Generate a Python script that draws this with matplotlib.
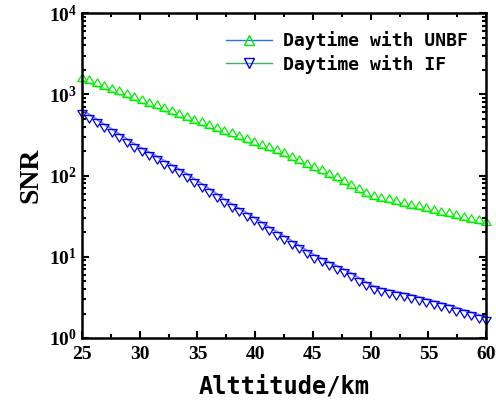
import numpy as np
import matplotlib
matplotlib.use('Agg')
import matplotlib.pyplot as plt
from matplotlib.path import Path
from matplotlib.lines import Line2D
from matplotlib.ticker import MultipleLocator, LogLocator, NullFormatter

plt.rcParams['mathtext.fontset'] = 'custom'
plt.rcParams['mathtext.rm'] = 'Liberation Serif:bold'
plt.rcParams['mathtext.it'] = 'Liberation Serif:bold'
plt.rcParams['mathtext.bf'] = 'Liberation Serif:bold'

# Altitude grid (km)
altitude = np.linspace(25, 60, 55)

# SNR
snr_unbf = [1479, 1365, 1259, 1167, 1079, 995, 918, 849, 783, 724,
            670, 618, 571, 525, 486, 449, 415, 384, 354, 327,
            303, 279, 258, 239, 220, 204, 188, 174, 157, 143,
            129, 117, 106, 96, 87, 79, 71, 63, 56, 51,
            49, 46.6, 44.4, 42.3, 40.3, 38.4, 36.6, 34.8, 33.1, 31.5,
            29.9, 28.4, 27.0, 25.7, 24.5]
snr_if = [646, 562, 490, 427, 372, 324, 282, 245, 216, 193,
          172, 152, 135, 119, 105, 91, 79, 69, 59.6, 51.3,
          44.7, 39.4, 34.7, 30.5, 26.6, 23.2, 20.4, 18.0, 15.7, 13.8,
          12.0, 10.6, 9.55, 8.61, 7.76, 7.0, 6.24, 5.5, 4.84, 4.32,
          4.07, 3.89, 3.72, 3.55, 3.39, 3.2, 3.02, 2.85, 2.69, 2.54,
          2.37, 2.21, 2.07, 1.93, 1.80]

labels = ['Daytime with UNBF', 'Daytime with IF']

# triangles sitting on the line (apex up) / hanging below it (apex down)
tri_up = Path([(-1, 0), (1, 0), (0, 1.64), (-1, 0)],
              [Path.MOVETO, Path.LINETO, Path.LINETO, Path.CLOSEPOLY])
tri_down = Path([(-1, 0), (1, 0), (0, -1.64), (-1, 0)],
                [Path.MOVETO, Path.LINETO, Path.LINETO, Path.CLOSEPOLY])

fig = plt.figure(figsize=(4.96, 4.09), dpi=100)
ax = fig.add_axes([0.1653, 0.1736, 0.815, 0.7944])

ax.plot(altitude, snr_unbf, color='#80f080', lw=1.5, marker=tri_up,
        ms=11, mfc='none', mec='#00ee00', mew=0.9, clip_on=False)
ax.plot(altitude, snr_if, color='#8080ff', lw=1.5, marker=tri_down,
        ms=11, mfc='none', mec='#0000ee', mew=0.9, clip_on=False)

ax.set_yscale('log')
ax.set_xlim(25, 60)
ax.set_ylim(1, 1e4)

ax.xaxis.set_major_locator(MultipleLocator(5))
ax.xaxis.set_minor_locator(MultipleLocator(2.5))
ax.yaxis.set_major_locator(LogLocator(base=10, numticks=10))
ax.yaxis.set_minor_locator(LogLocator(base=10, subs=np.arange(2, 10), numticks=10))
ax.yaxis.set_minor_formatter(NullFormatter())

ax.tick_params(which='both', direction='in', top=True, right=True, width=1.5)
ax.tick_params(which='major', length=5)
ax.tick_params(which='minor', length=3)
ax.tick_params(axis='x', which='major', pad=6)
for lab in ax.get_xticklabels() + ax.get_yticklabels():
    lab.set_fontfamily('Liberation Serif')
    lab.set_fontweight('bold')
    lab.set_fontsize(14)
for s in ax.spines.values():
    s.set_linewidth(1.8)

ax.set_ylabel('SNR', fontsize=20, fontweight='bold', family='Liberation Serif', labelpad=4)
ax.set_xlabel('Alttitude/km', fontsize=17, fontweight='bold', family='DejaVu Sans Mono', labelpad=8)

handles = [Line2D([], [], color='#2a6ff0', lw=1, marker='^', ms=7, mfc='none', mec='#00ee00'),
           Line2D([], [], color='#40b060', lw=1, marker='v', ms=7, mfc='none', mec='#0000ee')]
ax.legend(handles, labels, loc='upper right', bbox_to_anchor=(1.0, 1.0), frameon=False,
          prop={'family': 'DejaVu Sans Mono', 'weight': 'bold', 'size': 13},
          handlelength=2.6, handletextpad=0.6, labelspacing=0.25, borderaxespad=0.6)

fig.savefig('out.png', dpi=100)
